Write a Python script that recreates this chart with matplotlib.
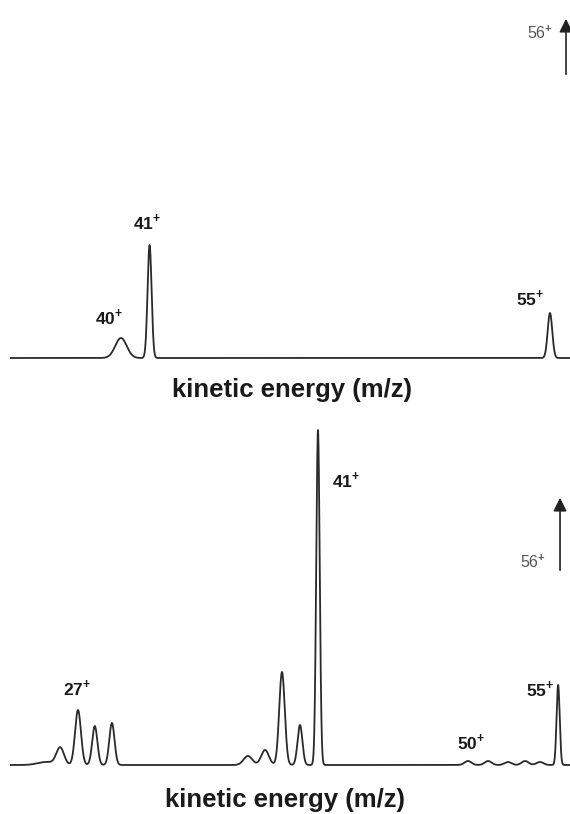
import numpy as np
import matplotlib
matplotlib.use("Agg")
import matplotlib.pyplot as plt

plt.rcParams['font.family'] = ['Liberation Sans', 'DejaVu Sans']
plt.rcParams['mathtext.fontset'] = 'custom'
plt.rcParams['mathtext.rm'] = 'Liberation Sans:bold'

# upper spectrum: peak position (m/z), height, width (sigma, m/z)
top_mz = [40.0, 41.0, 55.0, 56.0]
top_h = [20, 113, 45, 1000]
top_w = [0.2, 0.07, 0.08, 0.06]

# lower spectrum
bot_mz = [25.3, 26.1, 27.13, 28.1, 29.09, 36.95, 37.94, 38.92, 39.96, 41.0,
          49.67, 50.83, 51.98, 52.97, 53.83, 54.88, 56.0]
bot_h = [3, 17, 55, 39, 42, 9, 15, 93, 40, 335,
         4, 4, 3, 4, 3, 80, 2000]
bot_w = [0.5, 0.22, 0.17, 0.15, 0.15, 0.25, 0.22, 0.16, 0.14, 0.1,
         0.2, 0.2, 0.2, 0.2, 0.2, 0.09, 0.07]

top_labels = [('40', 39.58, 41), ('41', 40.91, 136), ('55', 54.30, 60)]
bot_labels = [('27', 27.07, 77), ('41', 42.62, 285), ('50', 49.84, 23), ('55', 53.83, 76)]


def spectrum(x, mz, h, w):
    y = np.zeros_like(x)
    for m, a, s in zip(mz, h, w):
        y += a * np.exp(-0.5 * ((x - m) / s) ** 2)
    return y


fig = plt.figure(figsize=(5.7, 8.14), dpi=100)

# top panel
ax1 = fig.add_axes([10 / 570, 1 - 362 / 814, 560 / 570, 362 / 814])
x1 = np.linspace(36.12, 55.70, 4000)
ax1.plot(x1, spectrum(x1, top_mz, top_h, top_w), color='#2a2a2a', lw=1.3)
ax1.set_xlim(36.12, 55.70)
ax1.set_ylim(-4, 358)
for t, xx, yy in top_labels:
    ax1.text(xx, yy, t + r'$^{+}$', ha='center', va='center', fontsize=12.5,
             fontweight='bold', color='#1a1a1a')
ax1.text(54.65, 325, r'56$^{+}$', ha='center', va='center', fontsize=11.5,
         color='#555555')
ax1.annotate('', xy=(55.56, 342), xytext=(55.56, 281),
             arrowprops=dict(arrowstyle='-|>', color='#222222', lw=1.2,
                             mutation_scale=20))
ax1.axis('off')

# bottom panel
ax2 = fig.add_axes([10 / 570, 1 - 769 / 814, 560 / 570, 354 / 814])
x2 = np.linspace(23.2, 55.566, 6000)
ax2.plot(x2, spectrum(x2, bot_mz, bot_h, bot_w), color='#2a2a2a', lw=1.3)
ax2.set_xlim(23.2, 55.566)
ax2.set_ylim(-4, 350)
for t, xx, yy in bot_labels:
    ax2.text(xx, yy, t + r'$^{+}$', ha='center', va='center', fontsize=12.5,
             fontweight='bold', color='#1a1a1a')
ax2.text(53.43, 203, r'56$^{+}$', ha='center', va='center', fontsize=11.5,
         color='#555555')
ax2.annotate('', xy=(54.99, 270), xytext=(54.99, 192),
             arrowprops=dict(arrowstyle='-|>', color='#222222', lw=1.2,
                             mutation_scale=20))
ax2.axis('off')

fig.text(292 / 570, 1 - 390 / 814, 'kinetic energy (m/z)', ha='center',
         va='center', fontsize=18.5, fontweight='bold', color='#1a1a1a')
fig.text(285 / 570, 1 - 800 / 814, 'kinetic energy (m/z)', ha='center',
         va='center', fontsize=18.5, fontweight='bold', color='#1a1a1a')

fig.savefig('out.png', dpi=100)
